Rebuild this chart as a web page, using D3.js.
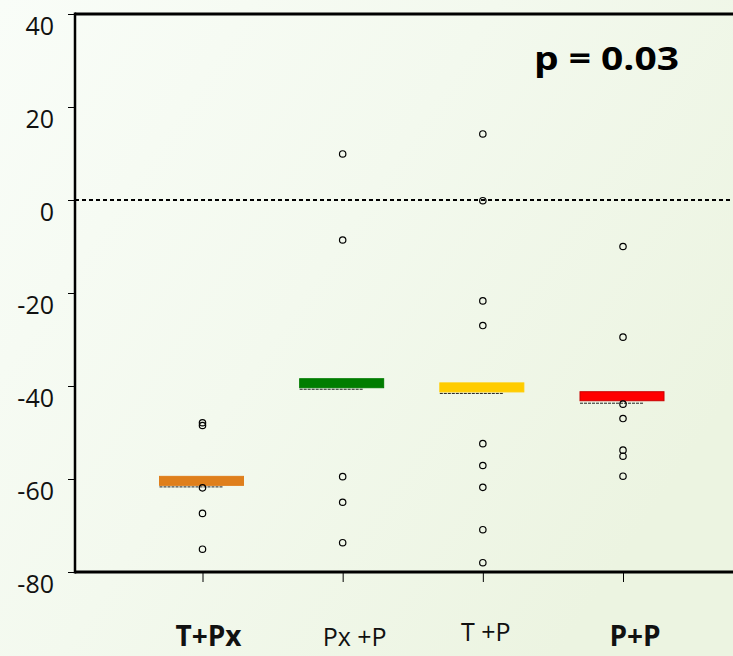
<!DOCTYPE html>
<html>
<head>
<meta charset="utf-8">
<script src="https://cdn.jsdelivr.net/npm/d3@7"></script>
<style>
  html, body { margin: 0; padding: 0; background: #f4f9ef; }
  svg { display: block; }
</style>
</head>
<body>
<div id="chart"></div>
<script>
// ---- data ----
const categories = ["T+Px", "Px +P", "T +P", "P+P"];
const boldLabel = [true, false, false, true];
const pointsTPx = [-47.9, -48.5, -61.9, -67.4, -75.1];
const pointsPxP = [9.9, -8.6, -59.5, -65.0, -73.7];
const pointsTP = [14.2, -0.15, -21.7, -27.0, -52.4, -57.1, -61.8, -70.9, -78.0];
const pointsPP = [-10.0, -29.5, -43.9, -47.0, -53.8, -55.1, -59.4];
const meanValues = [-60.4, -39.4, -40.3, -42.2];
const refValues = [-61.7, -40.7, -41.6, -43.7];
const barColors = ["#df7f1c", "#007d00", "#ffcc00", "#ff0000"];
const barStrokes = ["#df7f1c", "#007d00", "#ffcc00", "#c80000"];
const yTicks = [40, 20, 0, -20, -40, -60, -80];
const pLabel = "p = 0.03";
// label layout tweaks (dx from tick, baseline y)
const labelDx = [6, 12, 3, 12];
const labelY = [646, 646, 641, 646];

const groups = [pointsTPx, pointsPxP, pointsTP, pointsPP];

(function () {
const W = 733, H = 656;
const svg = d3.select("#chart").append("svg").attr("width", W).attr("height", H);

// background gradient
const defs = svg.append("defs");
const grad = defs.append("linearGradient").attr("id", "bg")
  .attr("x1", "0").attr("y1", "0").attr("x2", "1").attr("y2", "0.6");
grad.append("stop").attr("offset", "0").attr("stop-color", "#f9fdf8");
grad.append("stop").attr("offset", "0.5").attr("stop-color", "#f3f9ee");
grad.append("stop").attr("offset", "1").attr("stop-color", "#ecf4e1");
svg.append("rect").attr("width", W).attr("height", H).attr("fill", "url(#bg)");

const pLeft = 75, pRight = 733, pTop = 14, pBottom = 572;
const y = d3.scaleLinear().domain([-80, 40]).range([pBottom, pTop]);
const x = d3.scalePoint().domain(categories).range([202.5, 623]);

const font = "'Open Sans', 'Noto Sans', sans-serif";

// zero reference line
svg.append("line")
  .attr("x1", pLeft).attr("x2", pRight)
  .attr("y1", y(0)).attr("y2", y(0))
  .attr("stroke", "#000").attr("stroke-width", 2)
  .attr("stroke-dasharray", "4,3");

// Y axis
const yAxis = svg.append("g").attr("transform", `translate(${pLeft},0)`)
  .call(d3.axisLeft(y).tickValues(yTicks).tickSize(7).tickSizeOuter(0).tickFormat(d3.format("d")));
yAxis.select(".domain").remove();
yAxis.selectAll(".tick line").attr("stroke", "#000").attr("stroke-width", 1);
yAxis.selectAll(".tick text")
  .attr("x", -21).attr("dy", null).attr("y", 20)
  .attr("font-family", font).attr("font-size", 25).attr("fill", "#111")
  .text(d => d < 0 ? "-" + Math.abs(d) : d);

// X axis
const xAxis = svg.append("g").attr("transform", `translate(0,${pBottom})`)
  .call(d3.axisBottom(x).tickSize(10).tickSizeOuter(0).tickFormat(""));
xAxis.select(".domain").remove();
xAxis.selectAll(".tick line").attr("stroke", "#000").attr("stroke-width", 1);

// frame lines
svg.append("line").attr("x1", pLeft).attr("x2", pLeft).attr("y1", pTop - 1.5).attr("y2", pBottom + 1.5)
  .attr("stroke", "#000").attr("stroke-width", 2.5);
svg.append("line").attr("x1", pLeft).attr("x2", pRight).attr("y1", pTop).attr("y2", pTop)
  .attr("stroke", "#000").attr("stroke-width", 3);
svg.append("line").attr("x1", pLeft).attr("x2", pRight).attr("y1", pBottom).attr("y2", pBottom)
  .attr("stroke", "#000").attr("stroke-width", 3);

// category labels
svg.append("g").selectAll("text").data(categories).join("text")
  .attr("x", (d, i) => x(d) + labelDx[i])
  .attr("y", (d, i) => labelY[i])
  .attr("text-anchor", "middle")
  .attr("font-family", font)
  .attr("font-size", (d, i) => boldLabel[i] ? 28 : 25)
  .attr("font-weight", (d, i) => boldLabel[i] ? "bold" : "normal")
  .attr("fill", "#111")
  .text(d => d);

// mean bars
const barH = 9;
svg.append("g").selectAll("rect").data(categories).join("rect")
  .attr("x", d => x(d) - 43)
  .attr("width", 84)
  .attr("y", (d, i) => y(meanValues[i]) - barH / 2)
  .attr("height", barH)
  .attr("fill", (d, i) => barColors[i])
  .attr("stroke", (d, i) => barStrokes[i])
  .attr("stroke-width", 1);

// dashed reference lines under bars
svg.append("g").selectAll("line").data(categories).join("line")
  .attr("x1", d => x(d) - 43)
  .attr("x2", d => x(d) + 21)
  .attr("y1", (d, i) => y(refValues[i]))
  .attr("y2", (d, i) => y(refValues[i]))
  .attr("stroke", "#222").attr("stroke-width", 1)
  .attr("stroke-dasharray", "3,1");

// points
groups.forEach((vals, i) => {
  svg.append("g").selectAll("circle").data(vals).join("circle")
    .attr("cx", x(categories[i]))
    .attr("cy", d => y(d))
    .attr("r", 3.2)
    .attr("fill", "none")
    .attr("stroke", "#000")
    .attr("stroke-width", 1.2);
});

// p-value
svg.append("text")
  .attr("transform", "translate(534,70) scale(1.18,1)")
  .attr("font-family", font).attr("font-size", 33).attr("font-weight", "bold")
  .attr("fill", "#000")
  .text(pLabel);
})();
</script>
</body>
</html>
